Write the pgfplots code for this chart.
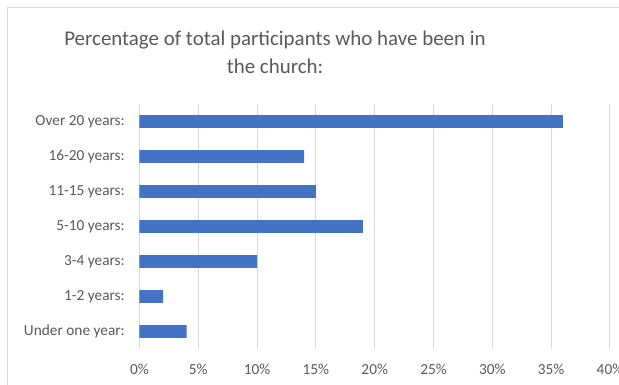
\documentclass[border=0pt]{standalone}
\usepackage{pgfplots}
\pgfplotsset{compat=1.18}
\usepackage{fontspec}
\setmainfont{Carlito}
\definecolor{barblue}{HTML}{4472C4}
\definecolor{gridgray}{HTML}{D9D9D9}
\definecolor{txtgray}{HTML}{595959}
\begin{document}
\begin{tikzpicture}
\path[use as bounding box] (0,0) rectangle (464.25pt,288.75pt);
\draw[gridgray, line width=0.75pt] (5.625pt,0pt) -- (5.625pt,282.75pt) -- (464.25pt,282.75pt);
\node[txtgray, align=center, font=\fontsize{15.7}{21}\selectfont] at (206.25pt,249.75pt)
  {Percentage of total participants who have been in\\the church:};
\begin{axis}[
  at={(104.625pt,27pt)}, anchor=south west,
  scale only axis, width=352.875pt, height=183.75pt,
  xmin=0, xmax=40, ymin=-0.5, ymax=6.5,
  xtick={0,5,10,15,20,25,30,35,40},
  xticklabels={0\%,5\%,10\%,15\%,20\%,25\%,30\%,35\%,40\%},
  ytick={0,1,2,3,4,5,6},
  yticklabels={Under one year:,1-2 years:,3-4 years:,5-10 years:,11-15 years:,16-20 years:,Over 20 years:},
  xmajorgrids, major grid style={gridgray, line width=0.75pt},
  axis line style={draw=none},
  major tick style={draw=none},
  tick label style={txtgray, font=\fontsize{11.5}{13}\selectfont},
  xticklabel style={anchor=base, yshift=-19.5pt},
  yticklabel style={anchor=east, xshift=-7.5pt},
  /pgf/number format/assume math mode=true,
  clip=false,
]
\addplot[xbar, bar width=9.4pt, fill=barblue, draw=none] coordinates {
  (4,0) (2,1) (10,2) (19,3) (15,4) (14,5) (36,6)
};
\end{axis}
\end{tikzpicture}
\end{document}
